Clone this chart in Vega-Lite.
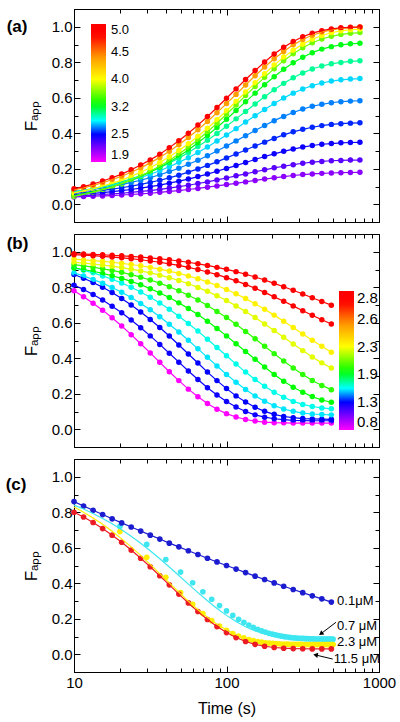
{
"$schema": "https://vega.github.io/schema/vega-lite/v6.json",
"padding": {"left": 5, "top": 8, "right": 5, "bottom": 5},
"background": "white",
"spacing": 10,
"config": {
  "view": {"stroke": "#000", "strokeWidth": 1},
  "font": "Liberation Sans",
  "axis": {"domainColor": "#000", "tickColor": "#000", "labelColor": "#000", "titleColor": "#000", "labelFont": "Liberation Sans", "titleFont": "Liberation Sans", "grid": false, "labelFlush": false, "labelOverlap": false},
  "legend": {"labelFont": "Liberation Sans", "labelColor": "#000"}
},
"resolve": {"scale": {"color": "independent", "stroke": "independent"}},
"datasets": {
"aSer": [{"s":1,"c":0.09},{"s":2,"c":0.13},{"s":3,"c":0.19},{"s":4,"c":0.215},{"s":5,"c":0.25},{"s":6,"c":0.285},{"s":7,"c":0.35},{"s":8,"c":0.41},{"s":9,"c":0.5},{"s":10,"c":0.6},{"s":11,"c":0.75},{"s":12,"c":0.95}],
"bSer": [{"s":1,"c":0.0},{"s":2,"c":0.19},{"s":3,"c":0.2},{"s":4,"c":0.29},{"s":5,"c":0.31},{"s":6,"c":0.42},{"s":7,"c":0.45},{"s":8,"c":0.58},{"s":9,"c":0.62},{"s":10,"c":0.95},{"s":11,"c":1.0}],
"panelLab": [{"p":"a","txt":"(a)","t":4.23,"F":1.0},{"p":"b","txt":"(b)","t":4.26,"F":1.041},{"p":"c","txt":"(c)","t":4.17,"F":0.954}],
"a": [
{"s":1,"t":10,"F":0.041},{"s":1,"t":11.55,"F":0.043},{"s":1,"t":13.34,"F":0.045},{"s":1,"t":15.4,"F":0.047},{"s":1,"t":17.78,"F":0.049},{"s":1,"t":20.54,"F":0.052},{"s":1,"t":23.71,"F":0.055},{"s":1,"t":27.38,"F":0.059},{"s":1,"t":31.62,"F":0.062},{"s":1,"t":36.52,"F":0.067},{"s":1,"t":42.17,"F":0.072},{"s":1,"t":48.7,"F":0.077},{"s":1,"t":56.23,"F":0.083},{"s":1,"t":64.94,"F":0.089},{"s":1,"t":74.99,"F":0.096},{"s":1,"t":86.6,"F":0.103},{"s":1,"t":100,"F":0.111},{"s":1,"t":115.5,"F":0.118},{"s":1,"t":133.4,"F":0.126},{"s":1,"t":154,"F":0.134},{"s":1,"t":177.8,"F":0.142},{"s":1,"t":205.4,"F":0.149},{"s":1,"t":237.1,"F":0.156},{"s":1,"t":273.8,"F":0.162},{"s":1,"t":316.2,"F":0.167},{"s":1,"t":365.2,"F":0.171},{"s":1,"t":421.7,"F":0.174},{"s":1,"t":487,"F":0.176},{"s":1,"t":562.3,"F":0.178},{"s":1,"t":649.4,"F":0.179},{"s":1,"t":749.9,"F":0.18},
{"s":2,"t":10,"F":0.046},{"s":2,"t":11.55,"F":0.049},{"s":2,"t":13.34,"F":0.051},{"s":2,"t":15.4,"F":0.055},{"s":2,"t":17.78,"F":0.058},{"s":2,"t":20.54,"F":0.062},{"s":2,"t":23.71,"F":0.067},{"s":2,"t":27.38,"F":0.072},{"s":2,"t":31.62,"F":0.077},{"s":2,"t":36.52,"F":0.084},{"s":2,"t":42.17,"F":0.091},{"s":2,"t":48.7,"F":0.099},{"s":2,"t":56.23,"F":0.107},{"s":2,"t":64.94,"F":0.117},{"s":2,"t":74.99,"F":0.126},{"s":2,"t":86.6,"F":0.137},{"s":2,"t":100,"F":0.148},{"s":2,"t":115.5,"F":0.16},{"s":2,"t":133.4,"F":0.171},{"s":2,"t":154,"F":0.183},{"s":2,"t":177.8,"F":0.194},{"s":2,"t":205.4,"F":0.205},{"s":2,"t":237.1,"F":0.214},{"s":2,"t":273.8,"F":0.223},{"s":2,"t":316.2,"F":0.231},{"s":2,"t":365.2,"F":0.237},{"s":2,"t":421.7,"F":0.241},{"s":2,"t":487,"F":0.245},{"s":2,"t":562.3,"F":0.247},{"s":2,"t":649.4,"F":0.249},{"s":2,"t":749.9,"F":0.249},
{"s":3,"t":10,"F":0.054},{"s":3,"t":11.55,"F":0.057},{"s":3,"t":13.34,"F":0.061},{"s":3,"t":15.4,"F":0.066},{"s":3,"t":17.78,"F":0.071},{"s":3,"t":20.54,"F":0.077},{"s":3,"t":23.71,"F":0.083},{"s":3,"t":27.38,"F":0.091},{"s":3,"t":31.62,"F":0.099},{"s":3,"t":36.52,"F":0.108},{"s":3,"t":42.17,"F":0.119},{"s":3,"t":48.7,"F":0.13},{"s":3,"t":56.23,"F":0.142},{"s":3,"t":64.94,"F":0.156},{"s":3,"t":74.99,"F":0.17},{"s":3,"t":86.6,"F":0.186},{"s":3,"t":100,"F":0.202},{"s":3,"t":115.5,"F":0.218},{"s":3,"t":133.4,"F":0.235},{"s":3,"t":154,"F":0.252},{"s":3,"t":177.8,"F":0.269},{"s":3,"t":205.4,"F":0.284},{"s":3,"t":237.1,"F":0.298},{"s":3,"t":273.8,"F":0.311},{"s":3,"t":316.2,"F":0.322},{"s":3,"t":365.2,"F":0.331},{"s":3,"t":421.7,"F":0.338},{"s":3,"t":487,"F":0.342},{"s":3,"t":562.3,"F":0.346},{"s":3,"t":649.4,"F":0.348},{"s":3,"t":749.9,"F":0.349},
{"s":4,"t":10,"F":0.062},{"s":4,"t":11.55,"F":0.066},{"s":4,"t":13.34,"F":0.072},{"s":4,"t":15.4,"F":0.078},{"s":4,"t":17.78,"F":0.085},{"s":4,"t":20.54,"F":0.093},{"s":4,"t":23.71,"F":0.102},{"s":4,"t":27.38,"F":0.112},{"s":4,"t":31.62,"F":0.123},{"s":4,"t":36.52,"F":0.135},{"s":4,"t":42.17,"F":0.149},{"s":4,"t":48.7,"F":0.164},{"s":4,"t":56.23,"F":0.181},{"s":4,"t":64.94,"F":0.199},{"s":4,"t":74.99,"F":0.219},{"s":4,"t":86.6,"F":0.239},{"s":4,"t":100,"F":0.261},{"s":4,"t":115.5,"F":0.283},{"s":4,"t":133.4,"F":0.306},{"s":4,"t":154,"F":0.328},{"s":4,"t":177.8,"F":0.35},{"s":4,"t":205.4,"F":0.371},{"s":4,"t":237.1,"F":0.391},{"s":4,"t":273.8,"F":0.408},{"s":4,"t":316.2,"F":0.422},{"s":4,"t":365.2,"F":0.434},{"s":4,"t":421.7,"F":0.443},{"s":4,"t":487,"F":0.45},{"s":4,"t":562.3,"F":0.454},{"s":4,"t":649.4,"F":0.457},{"s":4,"t":749.9,"F":0.459},
{"s":5,"t":10,"F":0.071},{"s":5,"t":11.55,"F":0.077},{"s":5,"t":13.34,"F":0.084},{"s":5,"t":15.4,"F":0.092},{"s":5,"t":17.78,"F":0.101},{"s":5,"t":20.54,"F":0.111},{"s":5,"t":23.71,"F":0.123},{"s":5,"t":27.38,"F":0.135},{"s":5,"t":31.62,"F":0.15},{"s":5,"t":36.52,"F":0.166},{"s":5,"t":42.17,"F":0.184},{"s":5,"t":48.7,"F":0.203},{"s":5,"t":56.23,"F":0.225},{"s":5,"t":64.94,"F":0.248},{"s":5,"t":74.99,"F":0.273},{"s":5,"t":86.6,"F":0.3},{"s":5,"t":100,"F":0.328},{"s":5,"t":115.5,"F":0.357},{"s":5,"t":133.4,"F":0.386},{"s":5,"t":154,"F":0.415},{"s":5,"t":177.8,"F":0.444},{"s":5,"t":205.4,"F":0.471},{"s":5,"t":237.1,"F":0.495},{"s":5,"t":273.8,"F":0.517},{"s":5,"t":316.2,"F":0.536},{"s":5,"t":365.2,"F":0.552},{"s":5,"t":421.7,"F":0.563},{"s":5,"t":487,"F":0.572},{"s":5,"t":562.3,"F":0.578},{"s":5,"t":649.4,"F":0.581},{"s":5,"t":749.9,"F":0.583},
{"s":6,"t":10,"F":0.071},{"s":6,"t":11.55,"F":0.078},{"s":6,"t":13.34,"F":0.087},{"s":6,"t":15.4,"F":0.097},{"s":6,"t":17.78,"F":0.108},{"s":6,"t":20.54,"F":0.121},{"s":6,"t":23.71,"F":0.135},{"s":6,"t":27.38,"F":0.151},{"s":6,"t":31.62,"F":0.169},{"s":6,"t":36.52,"F":0.189},{"s":6,"t":42.17,"F":0.211},{"s":6,"t":48.7,"F":0.236},{"s":6,"t":56.23,"F":0.262},{"s":6,"t":64.94,"F":0.291},{"s":6,"t":74.99,"F":0.323},{"s":6,"t":86.6,"F":0.356},{"s":6,"t":100,"F":0.39},{"s":6,"t":115.5,"F":0.426},{"s":6,"t":133.4,"F":0.463},{"s":6,"t":154,"F":0.499},{"s":6,"t":177.8,"F":0.534},{"s":6,"t":205.4,"F":0.568},{"s":6,"t":237.1,"F":0.599},{"s":6,"t":273.8,"F":0.626},{"s":6,"t":316.2,"F":0.649},{"s":6,"t":365.2,"F":0.668},{"s":6,"t":421.7,"F":0.683},{"s":6,"t":487,"F":0.694},{"s":6,"t":562.3,"F":0.701},{"s":6,"t":649.4,"F":0.705},{"s":6,"t":749.9,"F":0.708},
{"s":7,"t":10,"F":0.069},{"s":7,"t":11.55,"F":0.078},{"s":7,"t":13.34,"F":0.088},{"s":7,"t":15.4,"F":0.099},{"s":7,"t":17.78,"F":0.112},{"s":7,"t":20.54,"F":0.127},{"s":7,"t":23.71,"F":0.143},{"s":7,"t":27.38,"F":0.162},{"s":7,"t":31.62,"F":0.183},{"s":7,"t":36.52,"F":0.206},{"s":7,"t":42.17,"F":0.232},{"s":7,"t":48.7,"F":0.26},{"s":7,"t":56.23,"F":0.291},{"s":7,"t":64.94,"F":0.325},{"s":7,"t":74.99,"F":0.361},{"s":7,"t":86.6,"F":0.399},{"s":7,"t":100,"F":0.439},{"s":7,"t":115.5,"F":0.481},{"s":7,"t":133.4,"F":0.523},{"s":7,"t":154,"F":0.565},{"s":7,"t":177.8,"F":0.606},{"s":7,"t":205.4,"F":0.645},{"s":7,"t":237.1,"F":0.681},{"s":7,"t":273.8,"F":0.713},{"s":7,"t":316.2,"F":0.74},{"s":7,"t":365.2,"F":0.762},{"s":7,"t":421.7,"F":0.779},{"s":7,"t":487,"F":0.791},{"s":7,"t":562.3,"F":0.799},{"s":7,"t":649.4,"F":0.805},{"s":7,"t":749.9,"F":0.808},
{"s":8,"t":10,"F":0.049},{"s":8,"t":11.55,"F":0.059},{"s":8,"t":13.34,"F":0.071},{"s":8,"t":15.4,"F":0.084},{"s":8,"t":17.78,"F":0.099},{"s":8,"t":20.54,"F":0.116},{"s":8,"t":23.71,"F":0.135},{"s":8,"t":27.38,"F":0.157},{"s":8,"t":31.62,"F":0.181},{"s":8,"t":36.52,"F":0.208},{"s":8,"t":42.17,"F":0.238},{"s":8,"t":48.7,"F":0.271},{"s":8,"t":56.23,"F":0.306},{"s":8,"t":64.94,"F":0.346},{"s":8,"t":74.99,"F":0.388},{"s":8,"t":86.6,"F":0.432},{"s":8,"t":100,"F":0.479},{"s":8,"t":115.5,"F":0.528},{"s":8,"t":133.4,"F":0.577},{"s":8,"t":154,"F":0.626},{"s":8,"t":177.8,"F":0.673},{"s":8,"t":205.4,"F":0.718},{"s":8,"t":237.1,"F":0.76},{"s":8,"t":273.8,"F":0.797},{"s":8,"t":316.2,"F":0.828},{"s":8,"t":365.2,"F":0.854},{"s":8,"t":421.7,"F":0.874},{"s":8,"t":487,"F":0.888},{"s":8,"t":562.3,"F":0.898},{"s":8,"t":649.4,"F":0.904},{"s":8,"t":749.9,"F":0.907},
{"s":9,"t":10,"F":0.044},{"s":9,"t":11.55,"F":0.055},{"s":9,"t":13.34,"F":0.067},{"s":9,"t":15.4,"F":0.082},{"s":9,"t":17.78,"F":0.098},{"s":9,"t":20.54,"F":0.116},{"s":9,"t":23.71,"F":0.137},{"s":9,"t":27.38,"F":0.16},{"s":9,"t":31.62,"F":0.186},{"s":9,"t":36.52,"F":0.215},{"s":9,"t":42.17,"F":0.247},{"s":9,"t":48.7,"F":0.283},{"s":9,"t":56.23,"F":0.321},{"s":9,"t":64.94,"F":0.363},{"s":9,"t":74.99,"F":0.408},{"s":9,"t":86.6,"F":0.456},{"s":9,"t":100,"F":0.507},{"s":9,"t":115.5,"F":0.559},{"s":9,"t":133.4,"F":0.612},{"s":9,"t":154,"F":0.664},{"s":9,"t":177.8,"F":0.715},{"s":9,"t":205.4,"F":0.764},{"s":9,"t":237.1,"F":0.809},{"s":9,"t":273.8,"F":0.848},{"s":9,"t":316.2,"F":0.882},{"s":9,"t":365.2,"F":0.91},{"s":9,"t":421.7,"F":0.931},{"s":9,"t":487,"F":0.946},{"s":9,"t":562.3,"F":0.957},{"s":9,"t":649.4,"F":0.963},{"s":9,"t":749.9,"F":0.967},
{"s":10,"t":10,"F":0.064},{"s":10,"t":11.55,"F":0.075},{"s":10,"t":13.34,"F":0.087},{"s":10,"t":15.4,"F":0.102},{"s":10,"t":17.78,"F":0.118},{"s":10,"t":20.54,"F":0.136},{"s":10,"t":23.71,"F":0.157},{"s":10,"t":27.38,"F":0.18},{"s":10,"t":31.62,"F":0.206},{"s":10,"t":36.52,"F":0.235},{"s":10,"t":42.17,"F":0.267},{"s":10,"t":48.7,"F":0.303},{"s":10,"t":56.23,"F":0.341},{"s":10,"t":64.94,"F":0.383},{"s":10,"t":74.99,"F":0.428},{"s":10,"t":86.6,"F":0.476},{"s":10,"t":100,"F":0.527},{"s":10,"t":115.5,"F":0.579},{"s":10,"t":133.4,"F":0.632},{"s":10,"t":154,"F":0.684},{"s":10,"t":177.8,"F":0.735},{"s":10,"t":205.4,"F":0.784},{"s":10,"t":237.1,"F":0.829},{"s":10,"t":273.8,"F":0.868},{"s":10,"t":316.2,"F":0.902},{"s":10,"t":365.2,"F":0.93},{"s":10,"t":421.7,"F":0.951},{"s":10,"t":487,"F":0.966},{"s":10,"t":562.3,"F":0.977},{"s":10,"t":649.4,"F":0.983},{"s":10,"t":749.9,"F":0.987},
{"s":11,"t":10,"F":0.081},{"s":11,"t":11.55,"F":0.092},{"s":11,"t":13.34,"F":0.106},{"s":11,"t":15.4,"F":0.121},{"s":11,"t":17.78,"F":0.139},{"s":11,"t":20.54,"F":0.158},{"s":11,"t":23.71,"F":0.18},{"s":11,"t":27.38,"F":0.205},{"s":11,"t":31.62,"F":0.233},{"s":11,"t":36.52,"F":0.264},{"s":11,"t":42.17,"F":0.298},{"s":11,"t":48.7,"F":0.335},{"s":11,"t":56.23,"F":0.376},{"s":11,"t":64.94,"F":0.42},{"s":11,"t":74.99,"F":0.466},{"s":11,"t":86.6,"F":0.516},{"s":11,"t":100,"F":0.567},{"s":11,"t":115.5,"F":0.619},{"s":11,"t":133.4,"F":0.672},{"s":11,"t":154,"F":0.724},{"s":11,"t":177.8,"F":0.773},{"s":11,"t":205.4,"F":0.82},{"s":11,"t":237.1,"F":0.861},{"s":11,"t":273.8,"F":0.898},{"s":11,"t":316.2,"F":0.928},{"s":11,"t":365.2,"F":0.952},{"s":11,"t":421.7,"F":0.97},{"s":11,"t":487,"F":0.982},{"s":11,"t":562.3,"F":0.99},{"s":11,"t":649.4,"F":0.995},{"s":11,"t":749.9,"F":0.998},
{"s":12,"t":10,"F":0.087},{"s":12,"t":11.55,"F":0.099},{"s":12,"t":13.34,"F":0.114},{"s":12,"t":15.4,"F":0.131},{"s":12,"t":17.78,"F":0.149},{"s":12,"t":20.54,"F":0.17},{"s":12,"t":23.71,"F":0.194},{"s":12,"t":27.38,"F":0.221},{"s":12,"t":31.62,"F":0.25},{"s":12,"t":36.52,"F":0.282},{"s":12,"t":42.17,"F":0.319},{"s":12,"t":48.7,"F":0.358},{"s":12,"t":56.23,"F":0.4},{"s":12,"t":64.94,"F":0.446},{"s":12,"t":74.99,"F":0.494},{"s":12,"t":86.6,"F":0.545},{"s":12,"t":100,"F":0.597},{"s":12,"t":115.5,"F":0.65},{"s":12,"t":133.4,"F":0.703},{"s":12,"t":154,"F":0.753},{"s":12,"t":177.8,"F":0.801},{"s":12,"t":205.4,"F":0.846},{"s":12,"t":237.1,"F":0.884},{"s":12,"t":273.8,"F":0.917},{"s":12,"t":316.2,"F":0.944},{"s":12,"t":365.2,"F":0.964},{"s":12,"t":421.7,"F":0.978},{"s":12,"t":487,"F":0.988},{"s":12,"t":562.3,"F":0.994},{"s":12,"t":649.4,"F":0.997},{"s":12,"t":749.9,"F":0.999}
],
"b": [
{"s":1,"t":10,"F":0.78},{"s":1,"t":11.55,"F":0.747},{"s":1,"t":13.34,"F":0.71},{"s":1,"t":15.4,"F":0.671},{"s":1,"t":17.78,"F":0.628},{"s":1,"t":20.54,"F":0.582},{"s":1,"t":23.71,"F":0.533},{"s":1,"t":27.38,"F":0.482},{"s":1,"t":31.62,"F":0.43},{"s":1,"t":36.52,"F":0.377},{"s":1,"t":42.17,"F":0.324},{"s":1,"t":48.7,"F":0.274},{"s":1,"t":56.23,"F":0.226},{"s":1,"t":64.94,"F":0.183},{"s":1,"t":74.99,"F":0.145},{"s":1,"t":86.6,"F":0.113},{"s":1,"t":100,"F":0.088},{"s":1,"t":115.5,"F":0.069},{"s":1,"t":133.4,"F":0.055},{"s":1,"t":154,"F":0.046},{"s":1,"t":177.8,"F":0.04},{"s":1,"t":205.4,"F":0.037},{"s":1,"t":237.1,"F":0.036},{"s":1,"t":273.8,"F":0.035},{"s":1,"t":316.2,"F":0.035},{"s":1,"t":365.2,"F":0.035},{"s":1,"t":421.7,"F":0.035},{"s":1,"t":487,"F":0.035},
{"s":2,"t":10,"F":0.812},{"s":2,"t":11.55,"F":0.787},{"s":2,"t":13.34,"F":0.759},{"s":2,"t":15.4,"F":0.728},{"s":2,"t":17.78,"F":0.693},{"s":2,"t":20.54,"F":0.656},{"s":2,"t":23.71,"F":0.615},{"s":2,"t":27.38,"F":0.572},{"s":2,"t":31.62,"F":0.526},{"s":2,"t":36.52,"F":0.478},{"s":2,"t":42.17,"F":0.428},{"s":2,"t":48.7,"F":0.378},{"s":2,"t":56.23,"F":0.328},{"s":2,"t":64.94,"F":0.28},{"s":2,"t":74.99,"F":0.234},{"s":2,"t":86.6,"F":0.193},{"s":2,"t":100,"F":0.156},{"s":2,"t":115.5,"F":0.125},{"s":2,"t":133.4,"F":0.1},{"s":2,"t":154,"F":0.081},{"s":2,"t":177.8,"F":0.068},{"s":2,"t":205.4,"F":0.059},{"s":2,"t":237.1,"F":0.054},{"s":2,"t":273.8,"F":0.05},{"s":2,"t":316.2,"F":0.049},{"s":2,"t":365.2,"F":0.048},{"s":2,"t":421.7,"F":0.048},{"s":2,"t":487,"F":0.048},
{"s":3,"t":10,"F":0.872},{"s":3,"t":11.55,"F":0.851},{"s":3,"t":13.34,"F":0.827},{"s":3,"t":15.4,"F":0.8},{"s":3,"t":17.78,"F":0.77},{"s":3,"t":20.54,"F":0.737},{"s":3,"t":23.71,"F":0.7},{"s":3,"t":27.38,"F":0.661},{"s":3,"t":31.62,"F":0.618},{"s":3,"t":36.52,"F":0.573},{"s":3,"t":42.17,"F":0.525},{"s":3,"t":48.7,"F":0.475},{"s":3,"t":56.23,"F":0.424},{"s":3,"t":64.94,"F":0.373},{"s":3,"t":74.99,"F":0.322},{"s":3,"t":86.6,"F":0.274},{"s":3,"t":100,"F":0.229},{"s":3,"t":115.5,"F":0.188},{"s":3,"t":133.4,"F":0.153},{"s":3,"t":154,"F":0.124},{"s":3,"t":177.8,"F":0.101},{"s":3,"t":205.4,"F":0.084},{"s":3,"t":237.1,"F":0.072},{"s":3,"t":273.8,"F":0.065},{"s":3,"t":316.2,"F":0.06},{"s":3,"t":365.2,"F":0.058},{"s":3,"t":421.7,"F":0.057},{"s":3,"t":487,"F":0.056},
{"s":4,"t":10,"F":0.881},{"s":4,"t":11.55,"F":0.864},{"s":4,"t":13.34,"F":0.844},{"s":4,"t":15.4,"F":0.823},{"s":4,"t":17.78,"F":0.799},{"s":4,"t":20.54,"F":0.772},{"s":4,"t":23.71,"F":0.742},{"s":4,"t":27.38,"F":0.709},{"s":4,"t":31.62,"F":0.673},{"s":4,"t":36.52,"F":0.634},{"s":4,"t":42.17,"F":0.592},{"s":4,"t":48.7,"F":0.548},{"s":4,"t":56.23,"F":0.501},{"s":4,"t":64.94,"F":0.453},{"s":4,"t":74.99,"F":0.405},{"s":4,"t":86.6,"F":0.356},{"s":4,"t":100,"F":0.309},{"s":4,"t":115.5,"F":0.265},{"s":4,"t":133.4,"F":0.224},{"s":4,"t":154,"F":0.188},{"s":4,"t":177.8,"F":0.158},{"s":4,"t":205.4,"F":0.133},{"s":4,"t":237.1,"F":0.114},{"s":4,"t":273.8,"F":0.101},{"s":4,"t":316.2,"F":0.091},{"s":4,"t":365.2,"F":0.086},{"s":4,"t":421.7,"F":0.083},{"s":4,"t":487,"F":0.081},
{"s":5,"t":10,"F":0.909},{"s":5,"t":11.55,"F":0.896},{"s":5,"t":13.34,"F":0.881},{"s":5,"t":15.4,"F":0.864},{"s":5,"t":17.78,"F":0.845},{"s":5,"t":20.54,"F":0.824},{"s":5,"t":23.71,"F":0.8},{"s":5,"t":27.38,"F":0.773},{"s":5,"t":31.62,"F":0.744},{"s":5,"t":36.52,"F":0.711},{"s":5,"t":42.17,"F":0.676},{"s":5,"t":48.7,"F":0.637},{"s":5,"t":56.23,"F":0.596},{"s":5,"t":64.94,"F":0.553},{"s":5,"t":74.99,"F":0.507},{"s":5,"t":86.6,"F":0.461},{"s":5,"t":100,"F":0.414},{"s":5,"t":115.5,"F":0.367},{"s":5,"t":133.4,"F":0.322},{"s":5,"t":154,"F":0.28},{"s":5,"t":177.8,"F":0.242},{"s":5,"t":205.4,"F":0.208},{"s":5,"t":237.1,"F":0.18},{"s":5,"t":273.8,"F":0.157},{"s":5,"t":316.2,"F":0.14},{"s":5,"t":365.2,"F":0.128},{"s":5,"t":421.7,"F":0.12},{"s":5,"t":487,"F":0.115},
{"s":6,"t":10,"F":0.909},{"s":6,"t":11.55,"F":0.9},{"s":6,"t":13.34,"F":0.89},{"s":6,"t":15.4,"F":0.878},{"s":6,"t":17.78,"F":0.865},{"s":6,"t":20.54,"F":0.85},{"s":6,"t":23.71,"F":0.833},{"s":6,"t":27.38,"F":0.814},{"s":6,"t":31.62,"F":0.792},{"s":6,"t":36.52,"F":0.768},{"s":6,"t":42.17,"F":0.742},{"s":6,"t":48.7,"F":0.712},{"s":6,"t":56.23,"F":0.68},{"s":6,"t":64.94,"F":0.646},{"s":6,"t":74.99,"F":0.608},{"s":6,"t":86.6,"F":0.568},{"s":6,"t":100,"F":0.526},{"s":6,"t":115.5,"F":0.482},{"s":6,"t":133.4,"F":0.438},{"s":6,"t":154,"F":0.394},{"s":6,"t":177.8,"F":0.351},{"s":6,"t":205.4,"F":0.309},{"s":6,"t":237.1,"F":0.271},{"s":6,"t":273.8,"F":0.237},{"s":6,"t":316.2,"F":0.208},{"s":6,"t":365.2,"F":0.184},{"s":6,"t":421.7,"F":0.165},{"s":6,"t":487,"F":0.152},
{"s":7,"t":10,"F":0.927},{"s":7,"t":11.55,"F":0.92},{"s":7,"t":13.34,"F":0.913},{"s":7,"t":15.4,"F":0.904},{"s":7,"t":17.78,"F":0.895},{"s":7,"t":20.54,"F":0.884},{"s":7,"t":23.71,"F":0.871},{"s":7,"t":27.38,"F":0.857},{"s":7,"t":31.62,"F":0.841},{"s":7,"t":36.52,"F":0.823},{"s":7,"t":42.17,"F":0.803},{"s":7,"t":48.7,"F":0.78},{"s":7,"t":56.23,"F":0.755},{"s":7,"t":64.94,"F":0.728},{"s":7,"t":74.99,"F":0.697},{"s":7,"t":86.6,"F":0.664},{"s":7,"t":100,"F":0.629},{"s":7,"t":115.5,"F":0.591},{"s":7,"t":133.4,"F":0.551},{"s":7,"t":154,"F":0.51},{"s":7,"t":177.8,"F":0.468},{"s":7,"t":205.4,"F":0.426},{"s":7,"t":237.1,"F":0.384},{"s":7,"t":273.8,"F":0.345},{"s":7,"t":316.2,"F":0.308},{"s":7,"t":365.2,"F":0.275},{"s":7,"t":421.7,"F":0.247},{"s":7,"t":487,"F":0.223},
{"s":8,"t":10,"F":0.941},{"s":8,"t":11.55,"F":0.936},{"s":8,"t":13.34,"F":0.931},{"s":8,"t":15.4,"F":0.925},{"s":8,"t":17.78,"F":0.919},{"s":8,"t":20.54,"F":0.911},{"s":8,"t":23.71,"F":0.902},{"s":8,"t":27.38,"F":0.892},{"s":8,"t":31.62,"F":0.881},{"s":8,"t":36.52,"F":0.868},{"s":8,"t":42.17,"F":0.854},{"s":8,"t":48.7,"F":0.838},{"s":8,"t":56.23,"F":0.82},{"s":8,"t":64.94,"F":0.799},{"s":8,"t":74.99,"F":0.777},{"s":8,"t":86.6,"F":0.752},{"s":8,"t":100,"F":0.725},{"s":8,"t":115.5,"F":0.695},{"s":8,"t":133.4,"F":0.663},{"s":8,"t":154,"F":0.629},{"s":8,"t":177.8,"F":0.593},{"s":8,"t":205.4,"F":0.556},{"s":8,"t":237.1,"F":0.518},{"s":8,"t":273.8,"F":0.48},{"s":8,"t":316.2,"F":0.443},{"s":8,"t":365.2,"F":0.407},{"s":8,"t":421.7,"F":0.374},{"s":8,"t":487,"F":0.345},
{"s":9,"t":10,"F":0.958},{"s":9,"t":11.55,"F":0.954},{"s":9,"t":13.34,"F":0.95},{"s":9,"t":15.4,"F":0.946},{"s":9,"t":17.78,"F":0.941},{"s":9,"t":20.54,"F":0.935},{"s":9,"t":23.71,"F":0.928},{"s":9,"t":27.38,"F":0.921},{"s":9,"t":31.62,"F":0.912},{"s":9,"t":36.52,"F":0.902},{"s":9,"t":42.17,"F":0.891},{"s":9,"t":48.7,"F":0.878},{"s":9,"t":56.23,"F":0.864},{"s":9,"t":64.94,"F":0.848},{"s":9,"t":74.99,"F":0.83},{"s":9,"t":86.6,"F":0.81},{"s":9,"t":100,"F":0.787},{"s":9,"t":115.5,"F":0.763},{"s":9,"t":133.4,"F":0.736},{"s":9,"t":154,"F":0.707},{"s":9,"t":177.8,"F":0.676},{"s":9,"t":205.4,"F":0.643},{"s":9,"t":237.1,"F":0.609},{"s":9,"t":273.8,"F":0.573},{"s":9,"t":316.2,"F":0.537},{"s":9,"t":365.2,"F":0.501},{"s":9,"t":421.7,"F":0.467},{"s":9,"t":487,"F":0.434},
{"s":10,"t":10,"F":0.983},{"s":10,"t":11.55,"F":0.981},{"s":10,"t":13.34,"F":0.978},{"s":10,"t":15.4,"F":0.974},{"s":10,"t":17.78,"F":0.97},{"s":10,"t":20.54,"F":0.966},{"s":10,"t":23.71,"F":0.961},{"s":10,"t":27.38,"F":0.955},{"s":10,"t":31.62,"F":0.948},{"s":10,"t":36.52,"F":0.941},{"s":10,"t":42.17,"F":0.932},{"s":10,"t":48.7,"F":0.923},{"s":10,"t":56.23,"F":0.912},{"s":10,"t":64.94,"F":0.9},{"s":10,"t":74.99,"F":0.886},{"s":10,"t":86.6,"F":0.871},{"s":10,"t":100,"F":0.854},{"s":10,"t":115.5,"F":0.836},{"s":10,"t":133.4,"F":0.816},{"s":10,"t":154,"F":0.794},{"s":10,"t":177.8,"F":0.771},{"s":10,"t":205.4,"F":0.746},{"s":10,"t":237.1,"F":0.721},{"s":10,"t":273.8,"F":0.695},{"s":10,"t":316.2,"F":0.668},{"s":10,"t":365.2,"F":0.642},{"s":10,"t":421.7,"F":0.617},{"s":10,"t":487,"F":0.593},
{"s":11,"t":10,"F":0.989},{"s":11,"t":11.55,"F":0.987},{"s":11,"t":13.34,"F":0.985},{"s":11,"t":15.4,"F":0.983},{"s":11,"t":17.78,"F":0.98},{"s":11,"t":20.54,"F":0.977},{"s":11,"t":23.71,"F":0.974},{"s":11,"t":27.38,"F":0.97},{"s":11,"t":31.62,"F":0.965},{"s":11,"t":36.52,"F":0.96},{"s":11,"t":42.17,"F":0.955},{"s":11,"t":48.7,"F":0.948},{"s":11,"t":56.23,"F":0.941},{"s":11,"t":64.94,"F":0.932},{"s":11,"t":74.99,"F":0.923},{"s":11,"t":86.6,"F":0.912},{"s":11,"t":100,"F":0.901},{"s":11,"t":115.5,"F":0.888},{"s":11,"t":133.4,"F":0.873},{"s":11,"t":154,"F":0.858},{"s":11,"t":177.8,"F":0.841},{"s":11,"t":205.4,"F":0.822},{"s":11,"t":237.1,"F":0.803},{"s":11,"t":273.8,"F":0.783},{"s":11,"t":316.2,"F":0.762},{"s":11,"t":365.2,"F":0.741},{"s":11,"t":421.7,"F":0.72},{"s":11,"t":487,"F":0.699}
],
"c": [
{"s":"0.7","k":"p","t":20,"F":0.72},{"s":"0.7","k":"p","t":30,"F":0.619},{"s":"0.7","k":"p","t":40,"F":0.534},{"s":"0.7","k":"p","t":50,"F":0.463},{"s":"0.7","k":"p","t":60,"F":0.403},{"s":"0.7","k":"p","t":70,"F":0.352},{"s":"0.7","k":"p","t":80,"F":0.31},{"s":"0.7","k":"p","t":90,"F":0.274},{"s":"0.7","k":"p","t":100,"F":0.244},{"s":"0.7","k":"p","t":110,"F":0.219},{"s":"0.7","k":"p","t":120,"F":0.197},{"s":"0.7","k":"p","t":130,"F":0.18},{"s":"0.7","k":"p","t":140,"F":0.165},{"s":"0.7","k":"p","t":150,"F":0.152},{"s":"0.7","k":"p","t":160,"F":0.141},{"s":"0.7","k":"p","t":170,"F":0.132},{"s":"0.7","k":"p","t":180,"F":0.125},{"s":"0.7","k":"p","t":190,"F":0.118},{"s":"0.7","k":"p","t":200,"F":0.113},{"s":"0.7","k":"p","t":210,"F":0.109},{"s":"0.7","k":"p","t":220,"F":0.105},{"s":"0.7","k":"p","t":230,"F":0.102},{"s":"0.7","k":"p","t":240,"F":0.099},{"s":"0.7","k":"p","t":250,"F":0.097},{"s":"0.7","k":"p","t":260,"F":0.095},{"s":"0.7","k":"p","t":270,"F":0.093},{"s":"0.7","k":"p","t":280,"F":0.092},{"s":"0.7","k":"p","t":290,"F":0.091},{"s":"0.7","k":"p","t":300,"F":0.09},{"s":"0.7","k":"p","t":310,"F":0.089},{"s":"0.7","k":"p","t":320,"F":0.089},{"s":"0.7","k":"p","t":330,"F":0.088},{"s":"0.7","k":"p","t":340,"F":0.088},{"s":"0.7","k":"p","t":350,"F":0.087},{"s":"0.7","k":"p","t":360,"F":0.087},{"s":"0.7","k":"p","t":370,"F":0.087},{"s":"0.7","k":"p","t":380,"F":0.086},{"s":"0.7","k":"p","t":390,"F":0.086},{"s":"0.7","k":"p","t":400,"F":0.086},{"s":"0.7","k":"p","t":410,"F":0.086},{"s":"0.7","k":"p","t":420,"F":0.086},{"s":"0.7","k":"p","t":430,"F":0.085},{"s":"0.7","k":"p","t":440,"F":0.085},{"s":"0.7","k":"p","t":450,"F":0.085},{"s":"0.7","k":"p","t":460,"F":0.085},{"s":"0.7","k":"p","t":470,"F":0.085},{"s":"0.7","k":"p","t":480,"F":0.085},{"s":"0.7","k":"p","t":490,"F":0.085},{"s":"0.7","k":"p","t":500,"F":0.085},
{"s":"2.3","k":"p","t":20,"F":0.691},{"s":"2.3","k":"p","t":30,"F":0.546},{"s":"2.3","k":"p","t":40,"F":0.434},{"s":"2.3","k":"p","t":50,"F":0.347},{"s":"2.3","k":"p","t":60,"F":0.281},{"s":"2.3","k":"p","t":70,"F":0.229},{"s":"2.3","k":"p","t":80,"F":0.189},{"s":"2.3","k":"p","t":90,"F":0.159},{"s":"2.3","k":"p","t":100,"F":0.135},{"s":"2.3","k":"p","t":110,"F":0.117},{"s":"2.3","k":"p","t":120,"F":0.103},{"s":"2.3","k":"p","t":130,"F":0.092},{"s":"2.3","k":"p","t":140,"F":0.083},{"s":"2.3","k":"p","t":150,"F":0.077},{"s":"2.3","k":"p","t":160,"F":0.072},{"s":"2.3","k":"p","t":170,"F":0.068},{"s":"2.3","k":"p","t":180,"F":0.065},{"s":"2.3","k":"p","t":190,"F":0.063},{"s":"2.3","k":"p","t":200,"F":0.061},{"s":"2.3","k":"p","t":210,"F":0.06},{"s":"2.3","k":"p","t":220,"F":0.059},{"s":"2.3","k":"p","t":230,"F":0.058},{"s":"2.3","k":"p","t":240,"F":0.057},{"s":"2.3","k":"p","t":250,"F":0.057},{"s":"2.3","k":"p","t":260,"F":0.056},{"s":"2.3","k":"p","t":270,"F":0.056},{"s":"2.3","k":"p","t":280,"F":0.056},{"s":"2.3","k":"p","t":290,"F":0.056},{"s":"2.3","k":"p","t":300,"F":0.056},{"s":"2.3","k":"p","t":310,"F":0.056},{"s":"2.3","k":"p","t":320,"F":0.055},{"s":"2.3","k":"p","t":330,"F":0.055},{"s":"2.3","k":"p","t":340,"F":0.055},{"s":"2.3","k":"p","t":350,"F":0.055},{"s":"2.3","k":"p","t":360,"F":0.055},{"s":"2.3","k":"p","t":370,"F":0.055},{"s":"2.3","k":"p","t":380,"F":0.055},{"s":"2.3","k":"p","t":390,"F":0.055},{"s":"2.3","k":"p","t":400,"F":0.055},{"s":"2.3","k":"p","t":410,"F":0.055},{"s":"2.3","k":"p","t":420,"F":0.055},{"s":"2.3","k":"p","t":430,"F":0.055},{"s":"2.3","k":"p","t":440,"F":0.055},{"s":"2.3","k":"p","t":450,"F":0.055},{"s":"2.3","k":"p","t":460,"F":0.055},{"s":"2.3","k":"p","t":470,"F":0.055},{"s":"2.3","k":"p","t":480,"F":0.055},{"s":"2.3","k":"p","t":490,"F":0.055},{"s":"2.3","k":"p","t":500,"F":0.055},
{"s":"11.5","k":"p","t":10,"F":0.8},{"s":"11.5","k":"p","t":11.55,"F":0.773},{"s":"11.5","k":"p","t":13.34,"F":0.742},{"s":"11.5","k":"p","t":15.4,"F":0.708},{"s":"11.5","k":"p","t":17.78,"F":0.671},{"s":"11.5","k":"p","t":20.54,"F":0.631},{"s":"11.5","k":"p","t":23.71,"F":0.587},{"s":"11.5","k":"p","t":27.38,"F":0.541},{"s":"11.5","k":"p","t":31.62,"F":0.493},{"s":"11.5","k":"p","t":36.52,"F":0.442},{"s":"11.5","k":"p","t":42.17,"F":0.391},{"s":"11.5","k":"p","t":48.7,"F":0.339},{"s":"11.5","k":"p","t":56.23,"F":0.289},{"s":"11.5","k":"p","t":64.94,"F":0.241},{"s":"11.5","k":"p","t":74.99,"F":0.196},{"s":"11.5","k":"p","t":86.6,"F":0.156},{"s":"11.5","k":"p","t":100,"F":0.122},{"s":"11.5","k":"p","t":115.5,"F":0.094},{"s":"11.5","k":"p","t":133.4,"F":0.072},{"s":"11.5","k":"p","t":154,"F":0.056},{"s":"11.5","k":"p","t":177.8,"F":0.045},{"s":"11.5","k":"p","t":205.4,"F":0.038},{"s":"11.5","k":"p","t":237.1,"F":0.034},{"s":"11.5","k":"p","t":273.8,"F":0.032},{"s":"11.5","k":"p","t":316.2,"F":0.031},{"s":"11.5","k":"p","t":365.2,"F":0.03},{"s":"11.5","k":"p","t":421.7,"F":0.03},{"s":"11.5","k":"p","t":487,"F":0.03},
{"s":"0.1","k":"p","t":10,"F":0.86},{"s":"0.1","k":"p","t":11.55,"F":0.835},{"s":"0.1","k":"p","t":13.34,"F":0.811},{"s":"0.1","k":"p","t":15.4,"F":0.787},{"s":"0.1","k":"p","t":17.78,"F":0.763},{"s":"0.1","k":"p","t":20.54,"F":0.74},{"s":"0.1","k":"p","t":23.71,"F":0.717},{"s":"0.1","k":"p","t":27.38,"F":0.694},{"s":"0.1","k":"p","t":31.62,"F":0.671},{"s":"0.1","k":"p","t":36.52,"F":0.649},{"s":"0.1","k":"p","t":42.17,"F":0.626},{"s":"0.1","k":"p","t":48.7,"F":0.605},{"s":"0.1","k":"p","t":56.23,"F":0.583},{"s":"0.1","k":"p","t":64.94,"F":0.562},{"s":"0.1","k":"p","t":74.99,"F":0.541},{"s":"0.1","k":"p","t":86.6,"F":0.52},{"s":"0.1","k":"p","t":100,"F":0.5},{"s":"0.1","k":"p","t":115.5,"F":0.48},{"s":"0.1","k":"p","t":133.4,"F":0.46},{"s":"0.1","k":"p","t":154,"F":0.44},{"s":"0.1","k":"p","t":177.8,"F":0.421},{"s":"0.1","k":"p","t":205.4,"F":0.402},{"s":"0.1","k":"p","t":237.1,"F":0.383},{"s":"0.1","k":"p","t":273.8,"F":0.365},{"s":"0.1","k":"p","t":316.2,"F":0.347},{"s":"0.1","k":"p","t":365.2,"F":0.329},{"s":"0.1","k":"p","t":421.7,"F":0.312},{"s":"0.1","k":"p","t":487,"F":0.294},
{"s":"0.7","k":"f","t":10,"F":0.84},{"s":"0.7","k":"f","t":11.55,"F":0.818},{"s":"0.7","k":"f","t":13.34,"F":0.793},{"s":"0.7","k":"f","t":15.4,"F":0.765},{"s":"0.7","k":"f","t":17.78,"F":0.735},{"s":"0.7","k":"f","t":20.54,"F":0.701},{"s":"0.7","k":"f","t":23.71,"F":0.665},{"s":"0.7","k":"f","t":27.38,"F":0.625},{"s":"0.7","k":"f","t":31.62,"F":0.583},{"s":"0.7","k":"f","t":36.52,"F":0.538},{"s":"0.7","k":"f","t":42.17,"F":0.492},{"s":"0.7","k":"f","t":48.7,"F":0.444},{"s":"0.7","k":"f","t":56.23,"F":0.395},{"s":"0.7","k":"f","t":64.94,"F":0.347},{"s":"0.7","k":"f","t":74.99,"F":0.301},{"s":"0.7","k":"f","t":86.6,"F":0.258},{"s":"0.7","k":"f","t":100,"F":0.219},{"s":"0.7","k":"f","t":115.5,"F":0.184},{"s":"0.7","k":"f","t":133.4,"F":0.155},{"s":"0.7","k":"f","t":154,"F":0.132},{"s":"0.7","k":"f","t":177.8,"F":0.115},{"s":"0.7","k":"f","t":205.4,"F":0.103},{"s":"0.7","k":"f","t":237.1,"F":0.095},{"s":"0.7","k":"f","t":273.8,"F":0.09},{"s":"0.7","k":"f","t":316.2,"F":0.087},{"s":"0.7","k":"f","t":365.2,"F":0.086},{"s":"0.7","k":"f","t":421.7,"F":0.085},{"s":"0.7","k":"f","t":500,"F":0.085},
{"s":"2.3","k":"f","t":10,"F":0.83},{"s":"2.3","k":"f","t":11.55,"F":0.8},{"s":"2.3","k":"f","t":13.34,"F":0.768},{"s":"2.3","k":"f","t":15.4,"F":0.732},{"s":"2.3","k":"f","t":17.78,"F":0.693},{"s":"2.3","k":"f","t":20.54,"F":0.65},{"s":"2.3","k":"f","t":23.71,"F":0.605},{"s":"2.3","k":"f","t":27.38,"F":0.557},{"s":"2.3","k":"f","t":31.62,"F":0.506},{"s":"2.3","k":"f","t":36.52,"F":0.454},{"s":"2.3","k":"f","t":42.17,"F":0.402},{"s":"2.3","k":"f","t":48.7,"F":0.35},{"s":"2.3","k":"f","t":56.23,"F":0.299},{"s":"2.3","k":"f","t":64.94,"F":0.251},{"s":"2.3","k":"f","t":74.99,"F":0.208},{"s":"2.3","k":"f","t":86.6,"F":0.169},{"s":"2.3","k":"f","t":100,"F":0.137},{"s":"2.3","k":"f","t":115.5,"F":0.11},{"s":"2.3","k":"f","t":133.4,"F":0.09},{"s":"2.3","k":"f","t":154,"F":0.076},{"s":"2.3","k":"f","t":177.8,"F":0.067},{"s":"2.3","k":"f","t":205.4,"F":0.061},{"s":"2.3","k":"f","t":237.1,"F":0.058},{"s":"2.3","k":"f","t":273.8,"F":0.056},{"s":"2.3","k":"f","t":316.2,"F":0.055},{"s":"2.3","k":"f","t":365.2,"F":0.055},{"s":"2.3","k":"f","t":421.7,"F":0.055},{"s":"2.3","k":"f","t":500,"F":0.055}
],
"cLab": [{"txt":"0.1μM","t":531,"F":0.3},{"txt":"0.7 μM","t":531,"F":0.161},{"txt":"2.3 μM","t":531,"F":0.069},{"txt":"11.5 μM","t":505,"F":-0.027}],
"cArr": [{"lab":"0.7","t":522,"F":0.18,"t2":420,"F2":0.118},{"lab":"11.5","t":497,"F":-0.027,"t2":388,"F2":-0.005}]
},
"vconcat": [
{
 "width": 305, "height": 213,
 "layer": [
  {"data": {"name": "a"},
   "transform": [{"lookup": "s", "from": {"data": {"name": "aSer"}, "key": "s", "fields": ["c"]}}],
   "mark": {"type": "circle", "size": 30, "opacity": 1},
   "encoding": {
    "x": {"field": "t", "type": "quantitative", "scale": {"type": "log", "domain": [10, 1000], "nice": false},
          "axis": {"orient": "bottom", "values": [10,20,30,40,50,60,70,80,90,100,200,300,400,500,600,700,800,900,1000], "labels": false, "title": null,
                   "tickSize": {"condition": {"test": "datum.value==10||datum.value==100||datum.value==1000", "value": -6}, "value": -4}}},
    "y": {"field": "F", "type": "quantitative", "scale": {"domain": [-0.1, 1.1], "nice": false, "zero": false},
          "axis": {"orient": "left", "values": [0,0.1,0.2,0.3,0.4,0.5,0.6,0.7,0.8,0.9,1], "labelExpr": "round(datum.value*10)%2==0 ? format(datum.value,'.1f') : ''",
                   "tickSize": {"condition": {"test": "round(datum.value*10)%2==0", "value": -6}, "value": -4},
                   "labelFontSize": 15, "labelPadding": 8, "title": "Fₐₚₚ", "titleFontSize": 17, "titleFontWeight": "normal", "titlePadding": 11}},
    "color": {"field": "c", "type": "quantitative",
              "scale": {"domain": [0, 0.2, 0.3, 0.42, 0.6, 0.76, 0.92, 1], "range": ["#ff00ff", "#0000ff", "#00ffff", "#00ff00", "#ffff00", "#ff9900", "#ff0000", "#ff0000"], "interpolate": "rgb"},
              "legend": {"type": "gradient", "orient": "none", "legendX": 17, "legendY": 15, "direction": "vertical", "gradientLength": 138, "gradientThickness": 15, "values": [0, 0.2, 0.4, 0.6, 0.8, 1], "labelExpr": "['1.9','2.5','3.2','4.0','4.5','5.0'][round(datum.value*5)]", "title": null, "labelFontSize": 13, "labelOffset": 5, "gradientStrokeWidth": 0, "labelOverlap": false}}
   }},
  {"data": {"name": "a"},
   "transform": [{"lookup": "s", "from": {"data": {"name": "aSer"}, "key": "s", "fields": ["c"]}}],
   "mark": {"type": "line", "strokeWidth": 1.2},
   "encoding": {
    "x": {"field": "t", "type": "quantitative", "axis": {"orient": "top", "values": [10,20,30,40,50,60,70,80,90,100,200,300,400,500,600,700,800,900,1000], "labels": false, "title": null,
          "tickSize": {"condition": {"test": "datum.value==10||datum.value==100||datum.value==1000", "value": -6}, "value": -4}}},
    "y": {"field": "F", "type": "quantitative", "axis": {"orient": "right", "values": [0,0.1,0.2,0.3,0.4,0.5,0.6,0.7,0.8,0.9,1], "labels": false, "title": null,
          "tickSize": {"condition": {"test": "round(datum.value*10)%2==0", "value": -6}, "value": -4}}},
    "stroke": {"field": "c", "type": "quantitative", "legend": null,
               "scale": {"domain": [0, 0.2, 0.3, 0.42, 0.6, 0.76, 0.92, 1.001], "range": ["#ff00ff", "#0000ff", "#00ffff", "#00ff00", "#ffff00", "#ff9900", "#ff0000", "#ff0000"], "interpolate": "rgb"}},
    "detail": {"field": "s", "type": "nominal"}
   }},
  {"data": {"name": "panelLab"},
   "transform": [{"filter": "datum.p=='a'"}],
   "mark": {"type": "text", "align": "center", "baseline": "middle", "fontSize": 17, "fontWeight": "bold", "font": "Liberation Sans", "color": "#000"},
   "encoding": {"x": {"field": "t", "type": "quantitative", "axis": null}, "y": {"field": "F", "type": "quantitative", "axis": null}, "text": {"field": "txt"}}}
 ],
 "resolve": {"axis": {"x": "independent", "y": "independent"}}
},
{
 "width": 305, "height": 213,
 "layer": [
  {"data": {"name": "b"},
   "transform": [{"lookup": "s", "from": {"data": {"name": "bSer"}, "key": "s", "fields": ["c"]}}],
   "mark": {"type": "circle", "size": 30, "opacity": 1},
   "encoding": {
    "x": {"field": "t", "type": "quantitative", "scale": {"type": "log", "domain": [10, 1000], "nice": false},
          "axis": {"orient": "bottom", "values": [10,20,30,40,50,60,70,80,90,100,200,300,400,500,600,700,800,900,1000], "labels": false, "title": null,
                   "tickSize": {"condition": {"test": "datum.value==10||datum.value==100||datum.value==1000", "value": -6}, "value": -4}}},
    "y": {"field": "F", "type": "quantitative", "scale": {"domain": [-0.1, 1.1], "nice": false, "zero": false},
          "axis": {"orient": "left", "values": [0,0.1,0.2,0.3,0.4,0.5,0.6,0.7,0.8,0.9,1], "labelExpr": "round(datum.value*10)%2==0 ? format(datum.value,'.1f') : ''",
                   "tickSize": {"condition": {"test": "round(datum.value*10)%2==0", "value": -6}, "value": -4},
                   "labelFontSize": 15, "labelPadding": 8, "title": "Fₐₚₚ", "titleFontSize": 17, "titleFontWeight": "normal", "titlePadding": 11}},
    "color": {"field": "c", "type": "quantitative",
              "scale": {"domain": [0, 0.2, 0.3, 0.42, 0.6, 0.76, 0.92, 1], "range": ["#ff00ff", "#0000ff", "#00ffff", "#00ff00", "#ffff00", "#ff9900", "#ff0000", "#ff0000"], "interpolate": "rgb"},
              "legend": {"type": "gradient", "orient": "none", "legendX": 265, "legendY": 57, "direction": "vertical", "gradientLength": 139, "gradientThickness": 15, "values": [0, 0.2, 0.4, 0.6, 0.8, 1], "labelExpr": "['0.8','1.3','1.9','2.3','2.6','2.8'][round(datum.value*5)]", "title": null, "labelFontSize": 15, "labelOffset": 3, "gradientStrokeWidth": 0, "labelOverlap": false}}
   }},
  {"data": {"name": "b"},
   "transform": [{"lookup": "s", "from": {"data": {"name": "bSer"}, "key": "s", "fields": ["c"]}}],
   "mark": {"type": "line", "strokeWidth": 1.2},
   "encoding": {
    "x": {"field": "t", "type": "quantitative", "axis": {"orient": "top", "values": [10,20,30,40,50,60,70,80,90,100,200,300,400,500,600,700,800,900,1000], "labels": false, "title": null,
          "tickSize": {"condition": {"test": "datum.value==10||datum.value==100||datum.value==1000", "value": -6}, "value": -4}}},
    "y": {"field": "F", "type": "quantitative", "axis": {"orient": "right", "values": [0,0.1,0.2,0.3,0.4,0.5,0.6,0.7,0.8,0.9,1], "labels": false, "title": null,
          "tickSize": {"condition": {"test": "round(datum.value*10)%2==0", "value": -6}, "value": -4}}},
    "stroke": {"field": "c", "type": "quantitative", "legend": null,
               "scale": {"domain": [0, 0.2, 0.3, 0.42, 0.6, 0.76, 0.92, 1.001], "range": ["#ff00ff", "#0000ff", "#00ffff", "#00ff00", "#ffff00", "#ff9900", "#ff0000", "#ff0000"], "interpolate": "rgb"}},
    "detail": {"field": "s", "type": "nominal"}
   }},
  {"data": {"name": "panelLab"},
   "transform": [{"filter": "datum.p=='b'"}],
   "mark": {"type": "text", "align": "center", "baseline": "middle", "fontSize": 17, "fontWeight": "bold", "font": "Liberation Sans", "color": "#000"},
   "encoding": {"x": {"field": "t", "type": "quantitative", "axis": null}, "y": {"field": "F", "type": "quantitative", "axis": null}, "text": {"field": "txt"}}}
 ],
 "resolve": {"axis": {"x": "independent", "y": "independent"}}
},
{
 "width": 305, "height": 213,
 "layer": [
  {"data": {"name": "c"},
   "transform": [{"filter": "datum.k=='p'"}],
   "mark": {"type": "circle", "size": 32, "opacity": 1},
   "encoding": {
    "x": {"field": "t", "type": "quantitative", "scale": {"type": "log", "domain": [10, 1000], "nice": false},
          "axis": {"orient": "bottom", "values": [10,20,30,40,50,60,70,80,90,100,200,300,400,500,600,700,800,900,1000],
                   "labelExpr": "(datum.value==10||datum.value==100||datum.value==1000) ? format(datum.value,'d') : ''",
                   "labelFontSize": 15, "labelPadding": 9, "title": "Time (s)", "titleFontSize": 16, "titleFontWeight": "normal", "titlePadding": 8,
                   "tickSize": {"condition": {"test": "datum.value==10||datum.value==100||datum.value==1000", "value": -6}, "value": -4}}},
    "y": {"field": "F", "type": "quantitative", "scale": {"domain": [-0.1, 1.1], "nice": false, "zero": false},
          "axis": {"orient": "left", "values": [0,0.1,0.2,0.3,0.4,0.5,0.6,0.7,0.8,0.9,1], "labelExpr": "round(datum.value*10)%2==0 ? format(datum.value,'.1f') : ''",
                   "tickSize": {"condition": {"test": "round(datum.value*10)%2==0", "value": -6}, "value": -4},
                   "labelFontSize": 15, "labelPadding": 8, "title": "Fₐₚₚ", "titleFontSize": 17, "titleFontWeight": "normal", "titlePadding": 11}},
    "color": {"field": "s", "type": "nominal", "scale": {"domain": ["0.1", "0.7", "2.3", "11.5"], "range": ["#1c1cd0", "#3ee6f0", "#ffee00", "#ec1c24"]}, "legend": null}
   }},
  {"data": {"name": "c"},
   "transform": [{"filter": "datum.k=='f' || datum.s=='0.1' || datum.s=='11.5'"}],
   "mark": {"type": "line", "strokeWidth": 1.2},
   "encoding": {
    "x": {"field": "t", "type": "quantitative", "axis": {"orient": "top", "values": [10,20,30,40,50,60,70,80,90,100,200,300,400,500,600,700,800,900,1000], "labels": false, "title": null,
          "tickSize": {"condition": {"test": "datum.value==10||datum.value==100||datum.value==1000", "value": -6}, "value": -4}}},
    "y": {"field": "F", "type": "quantitative", "axis": {"orient": "right", "values": [0,0.1,0.2,0.3,0.4,0.5,0.6,0.7,0.8,0.9,1], "labels": false, "title": null,
          "tickSize": {"condition": {"test": "round(datum.value*10)%2==0", "value": -6}, "value": -4}}},
    "color": {"field": "s", "type": "nominal", "legend": null}
   }},
  {"data": {"name": "cLab"},
   "mark": {"type": "text", "align": "left", "baseline": "middle", "fontSize": 13, "font": "Liberation Sans", "color": "#000"},
   "encoding": {
    "x": {"field": "t", "type": "quantitative", "axis": null},
    "y": {"field": "F", "type": "quantitative", "axis": null},
    "text": {"field": "txt"}
   }},
  {"data": {"name": "cArr"},
   "mark": {"type": "rule", "color": "#000", "strokeWidth": 1},
   "encoding": {
    "x": {"field": "t", "type": "quantitative", "axis": null},
    "y": {"field": "F", "type": "quantitative", "axis": null},
    "x2": {"field": "t2"},
    "y2": {"field": "F2"}
   }},
  {"data": {"name": "cArr"},
   "transform": [{"filter": "datum.lab=='0.7'"}],
   "mark": {"type": "point", "shape": "triangle", "filled": true, "size": 28, "angle": 234, "color": "#000", "opacity": 1},
   "encoding": {
    "x": {"field": "t2", "type": "quantitative", "axis": null},
    "y": {"field": "F2", "type": "quantitative", "axis": null}
   }},
  {"data": {"name": "cArr"},
   "transform": [{"filter": "datum.lab=='11.5'"}],
   "mark": {"type": "point", "shape": "triangle", "filled": true, "size": 28, "angle": 281, "color": "#000", "opacity": 1},
   "encoding": {
    "x": {"field": "t2", "type": "quantitative", "axis": null},
    "y": {"field": "F2", "type": "quantitative", "axis": null}
   }},
  {"data": {"name": "panelLab"},
   "transform": [{"filter": "datum.p=='c'"}],
   "mark": {"type": "text", "align": "center", "baseline": "middle", "fontSize": 17, "fontWeight": "bold", "font": "Liberation Sans", "color": "#000"},
   "encoding": {"x": {"field": "t", "type": "quantitative", "axis": null}, "y": {"field": "F", "type": "quantitative", "axis": null}, "text": {"field": "txt"}}}
 ],
 "resolve": {"axis": {"x": "independent", "y": "independent"}}
}
]
}
